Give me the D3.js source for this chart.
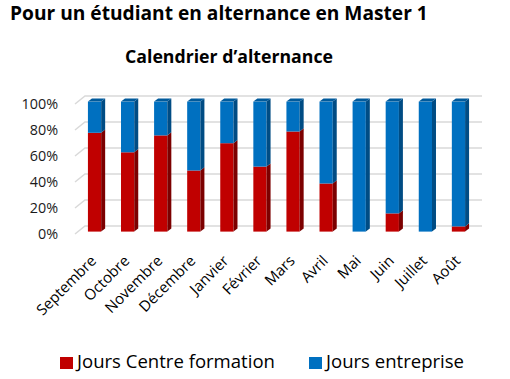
<!DOCTYPE html>
<html><head><meta charset="utf-8">
<script src="https://cdn.jsdelivr.net/npm/d3@7"></script>
<style>html,body{margin:0;padding:0;background:#fff;} svg{display:block;font-family:"Open Sans",sans-serif;}</style>
</head><body>
<svg id="c" width="510" height="379"></svg>
<script>
const months = ["Septembre","Octobre","Novembre","Décembre","Janvier","Février","Mars","Avril","Mai","Juin","Juillet","Août"];
const centre = [76, 61, 74, 47, 68, 50, 77, 37, 0, 14, 0, 4];
const entreprise = [24, 39, 26, 53, 32, 50, 23, 63, 100, 86, 100, 96];
const yTicks = [0, 20, 40, 60, 80, 100];
const seriesNames = ["Jours Centre formation", "Jours entreprise"];
const title = "Pour un étudiant en alternance en Master 1";
const subtitle = "Calendrier d’alternance";

const svg = d3.select("#c");
const FONT = "'Open Sans',sans-serif";
function fitSize(str, weight, target) {
  const t = svg.append("text").attr("font-family", FONT).attr("font-weight", weight).attr("font-size", 100).text(str);
  const w = t.node().getComputedTextLength();
  t.remove();
  return 100 * target / w;
}
const colors = [
  {front:"#C00000", side:"#7C0000", top:"#A00000"},
  {front:"#0070C0", side:"#004C84", top:"#005A9C"}
];
const DX = 10, DY = -8;
const b0 = 0.3, b1 = 0.7;

const x = d3.scaleBand().domain(months).range([75, 472]).paddingInner(0.6).paddingOuter(0.3);
const y = d3.scaleLinear().domain([0, 100]).range([234, 104]);

// titles
svg.append("text").attr("x", 10).attr("y", 20).attr("font-weight", "bold")
  .attr("font-size", fitSize(title, "bold", 418)).attr("fill", "#000").text(title);
svg.append("text").attr("x", 229).attr("y", 63).attr("text-anchor", "middle").attr("font-weight", "bold")
  .attr("font-size", fitSize(subtitle, "bold", 208)).attr("fill", "#000").text(subtitle);

// gridlines
const g = svg.append("g");
yTicks.forEach(t => {
  const yy = y(t);
  g.append("path").attr("d", `M${x.range()[0]},${yy}L${x.range()[0] + DX},${yy + DY}L${x.range()[1] + DX},${yy + DY}`)
    .attr("fill", "none").attr("stroke", "#D9D9D9").attr("stroke-width", 1.5);
});

// y axis labels
const ySize = fitSize("100%", "normal", 36.5);
const yAxis = d3.axisLeft(y).tickValues(yTicks).tickFormat(d => d + "%").tickSize(0).tickPadding(0);
const ya = svg.append("g").attr("transform", "translate(58,0)").call(yAxis);
ya.select(".domain").remove();
ya.selectAll("text").attr("font-size", ySize).attr("fill", "#1a1a1a").attr("font-family", FONT);

// bars
const stacked = months.map((m, i) => ({m, segs: [[0, centre[i]], [centre[i], centre[i] + entreprise[i]]]}));
const bw = x.bandwidth();
const ox0 = DX * b0, oy0 = DY * b0, bdx = DX * (b1 - b0), bdy = DY * (b1 - b0);
const bars = svg.append("g");
stacked.forEach(d => {
  const xl = x(d.m) + ox0, xr = xl + bw;
  const top = d.segs[1][1];
  d.segs.forEach((s, k) => {
    if (s[1] - s[0] <= 0) return;
    const yb = y(s[0]) + oy0, yt = y(s[1]) + oy0;
    const c = colors[k];
    bars.append("rect").attr("x", xl).attr("y", yt).attr("width", bw).attr("height", yb - yt).attr("fill", c.front);
    bars.append("path").attr("d", `M${xr},${yb}L${xr},${yt}L${xr + bdx},${yt + bdy}L${xr + bdx},${yb + bdy}Z`).attr("fill", c.side);
    if (s[1] === top) {
      bars.append("path").attr("d", `M${xl},${yt}L${xr},${yt}L${xr + bdx},${yt + bdy}L${xl + bdx},${yt + bdy}Z`).attr("fill", c.top);
    }
  });
});

// x labels
const xSize = 15;
const xlab = svg.append("g");
months.forEach(m => {
  const cx = x(m) + ox0 + bw / 2 - 1, cy = 258;
  xlab.append("text").attr("transform", `translate(${cx},${cy}) rotate(-45)`).attr("text-anchor", "end")
    .attr("dy", "0.35em").attr("font-size", xSize).attr("fill", "#000").text(m);
});

// legend
const lSize = fitSize(seriesNames[0], "normal", 198);
const leg = [{x: 60, c: colors[0].front, t: seriesNames[0]}, {x: 309, c: colors[1].front, t: seriesNames[1]}];
leg.forEach(l => {
  svg.append("rect").attr("x", l.x).attr("y", 357).attr("width", 13).attr("height", 12).attr("fill", l.c);
  svg.append("text").attr("x", l.x + 17).attr("y", 368).attr("font-size", lSize).attr("fill", "#000").text(l.t);
});
</script>
</body></html>
